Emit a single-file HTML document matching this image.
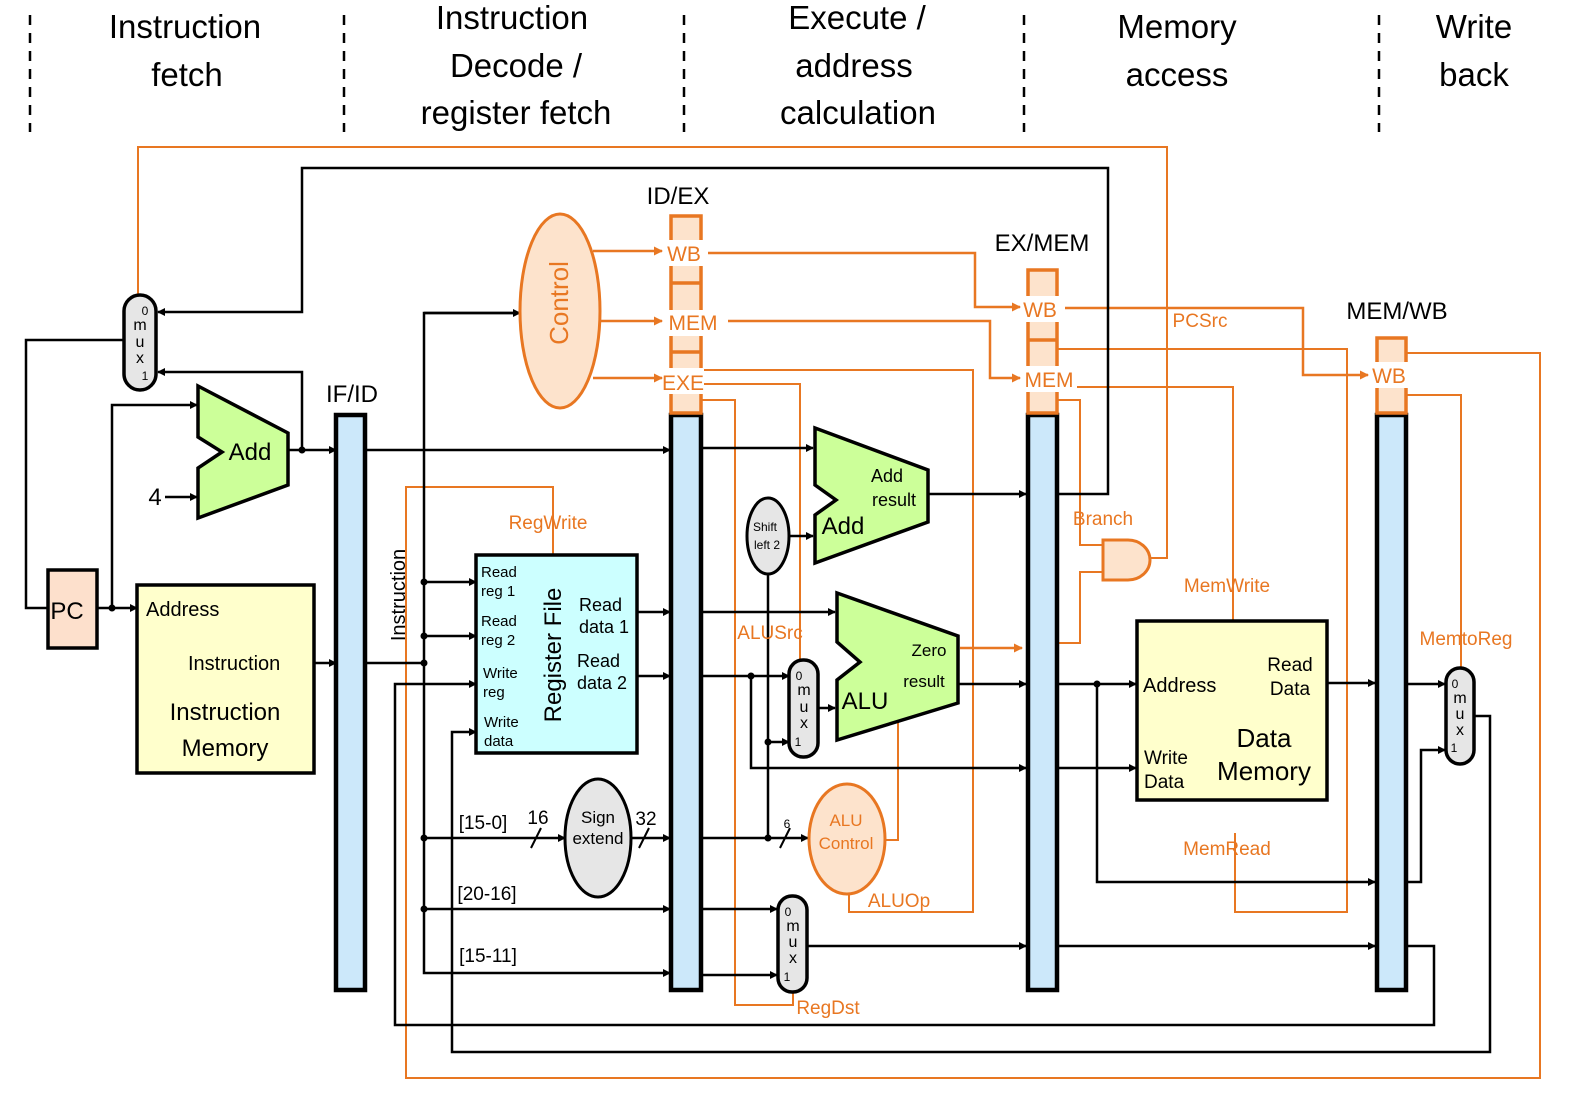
<!DOCTYPE html>
<html><head><meta charset="utf-8"><style>
html,body{margin:0;padding:0;background:#fff;}
svg{display:block;font-family:"Liberation Sans Narrow","Liberation Sans",sans-serif;}
</style></head><body>
<svg width="1591" height="1099" viewBox="0 0 1591 1099" xmlns="http://www.w3.org/2000/svg">
<defs>
<marker id="ab" markerWidth="8" markerHeight="8" refX="7" refY="4" orient="auto" markerUnits="userSpaceOnUse"><path d="M0,0 L8,4 L0,8 z" fill="#000"/></marker>
<marker id="ao" markerWidth="9" markerHeight="9" refX="8" refY="4.5" orient="auto" markerUnits="userSpaceOnUse"><path d="M0,0 L9,4.5 L0,9 z" fill="#e87722"/></marker>
</defs>
<!-- dashed separators -->
<g stroke="#000" stroke-width="2.5" stroke-dasharray="10,8">
<line x1="30" y1="15" x2="30" y2="132"/><line x1="344" y1="15" x2="344" y2="132"/><line x1="684" y1="15" x2="684" y2="132"/><line x1="1024" y1="15" x2="1024" y2="132"/><line x1="1379" y1="15" x2="1379" y2="132"/>
</g>
<g font-size="33" text-anchor="middle" fill="#000">
<text x="185" y="38">Instruction</text><text x="187" y="86">fetch</text>
<text x="512" y="29">Instruction</text><text x="516" y="77">Decode /</text><text x="516" y="124">register fetch</text>
<text x="857" y="29">Execute /</text><text x="854" y="77">address</text><text x="858" y="124">calculation</text>
<text x="1177" y="38">Memory</text><text x="1177" y="86">access</text>
<text x="1474" y="38">Write</text><text x="1474" y="86">back</text>
</g>

<!-- orange thin wires -->
<g stroke="#e87722" stroke-width="2" fill="none">
<polyline points="138,295 138,147 1167,147 1167,558 1150,558"/>
<polyline points="553,555 553,487 406,487 406,1078 1540,1078 1540,353 1406,353"/>
<polyline points="701,370 973,370 973,912 849,912 849,893"/>
<polyline points="701,384 800,384 800,660"/>
<polyline points="701,400 735,400 735,1005 793,1005 793,992"/>
<polyline points="1057,349 1347,349 1347,912 1235,912 1235,833"/>
<polyline points="1057,387 1233,387 1233,620"/>
<polyline points="1057,400 1080,400 1080,545 1103,545"/>
<polyline points="1057,643 1080,643 1080,572 1103,572"/>
<polyline points="1406,395 1461,395 1461,668"/>
<polyline points="885,840 898,840 898,715"/>
</g>
<g stroke="#e87722" stroke-width="2.5" fill="none">
<line x1="593" y1="251" x2="662" y2="251" marker-end="url(#ao)"/>
<line x1="600" y1="321" x2="662" y2="321" marker-end="url(#ao)"/>
<line x1="593" y1="378" x2="662" y2="378" marker-end="url(#ao)"/>
<polyline points="708,253 975,253 975,307 1020,307" marker-end="url(#ao)"/>
<polyline points="728,321 990,321 990,378 1020,378" marker-end="url(#ao)"/>
<polyline points="1065,308 1303,308 1303,375 1368,375" marker-end="url(#ao)"/>
<line x1="960" y1="648" x2="1022" y2="648" marker-end="url(#ao)"/>
</g>

<!-- black wires -->
<g stroke="#000" stroke-width="2.5" fill="none">
<polyline points="1057,494 1108,494 1108,168 302,168 302,312 158,312" marker-end="url(#ab)"/>
<polyline points="124,340 26,340 26,608 48,608"/>
<line x1="97" y1="608" x2="137" y2="608" marker-end="url(#ab)"/>
<polyline points="112,608 112,405 197,405" marker-end="url(#ab)"/>
<line x1="165" y1="497" x2="197" y2="497" marker-end="url(#ab)"/>
<line x1="288" y1="450" x2="336" y2="450" marker-end="url(#ab)"/>
<polyline points="302,450 302,372 158,372" marker-end="url(#ab)"/>
<line x1="314" y1="663" x2="336" y2="663" marker-end="url(#ab)"/>
<line x1="365" y1="450" x2="670" y2="450" marker-end="url(#ab)"/>
<line x1="365" y1="663" x2="424" y2="663"/>
<polyline points="520,313 424,313 424,973 670,973" marker-end="url(#ab)"/>
<line x1="424" y1="313" x2="520" y2="313" marker-end="url(#ab)"/>
<line x1="424" y1="582" x2="476" y2="582" marker-end="url(#ab)"/>
<line x1="424" y1="636" x2="476" y2="636" marker-end="url(#ab)"/>
<polyline points="1406,946 1434,946 1434,1025 395,1025 395,684 476,684" marker-end="url(#ab)"/>
<polyline points="1474,716 1490,716 1490,1052 452,1052 452,732 476,732" marker-end="url(#ab)"/>
<line x1="424" y1="838" x2="565" y2="838" marker-end="url(#ab)"/>
<line x1="631" y1="838" x2="670" y2="838" marker-end="url(#ab)"/>
<line x1="424" y1="909" x2="670" y2="909" marker-end="url(#ab)"/>
<line x1="637" y1="612" x2="670" y2="612" marker-end="url(#ab)"/>
<line x1="637" y1="676" x2="670" y2="676" marker-end="url(#ab)"/>
<line x1="701" y1="448" x2="813" y2="448" marker-end="url(#ab)"/>
<line x1="790" y1="536" x2="813" y2="536" marker-end="url(#ab)"/>
<line x1="928" y1="494" x2="1026" y2="494" marker-end="url(#ab)"/>
<line x1="701" y1="612" x2="835" y2="612" marker-end="url(#ab)"/>
<line x1="958" y1="684" x2="1026" y2="684" marker-end="url(#ab)"/>
<line x1="701" y1="676" x2="789" y2="676" marker-end="url(#ab)"/>
<polyline points="751,676 751,768 1026,768" marker-end="url(#ab)"/>
<line x1="768" y1="574" x2="768" y2="838"/>
<line x1="768" y1="742" x2="789" y2="742" marker-end="url(#ab)"/>
<line x1="818" y1="708" x2="835" y2="708" marker-end="url(#ab)"/>
<line x1="701" y1="838" x2="808" y2="838" marker-end="url(#ab)"/>
<line x1="701" y1="909" x2="777" y2="909" marker-end="url(#ab)"/>
<line x1="701" y1="975" x2="777" y2="975" marker-end="url(#ab)"/>
<line x1="807" y1="946" x2="1026" y2="946" marker-end="url(#ab)"/>
<line x1="1057" y1="684" x2="1136" y2="684" marker-end="url(#ab)"/>
<polyline points="1097,684 1097,882 1375,882" marker-end="url(#ab)"/>
<line x1="1057" y1="768" x2="1136" y2="768" marker-end="url(#ab)"/>
<line x1="1327" y1="683" x2="1375" y2="683" marker-end="url(#ab)"/>
<line x1="1057" y1="946" x2="1375" y2="946" marker-end="url(#ab)"/>
<line x1="1406" y1="684" x2="1445" y2="684" marker-end="url(#ab)"/>
<polyline points="1406,882 1421,882 1421,750 1445,750" marker-end="url(#ab)"/>
</g>
<g stroke="#000" stroke-width="2">
<line x1="531" y1="848" x2="541" y2="828"/><line x1="639" y1="848" x2="649" y2="828"/><line x1="780" y1="848" x2="790" y2="828"/>
</g>
<g fill="#000">
<circle cx="112" cy="608" r="3.5"/><circle cx="302" cy="450" r="3.5"/><circle cx="424" cy="582" r="3.5"/><circle cx="424" cy="636" r="3.5"/><circle cx="424" cy="663" r="3.5"/><circle cx="424" cy="838" r="3.5"/><circle cx="424" cy="909" r="3.5"/><circle cx="751" cy="676" r="3.5"/><circle cx="768" cy="742" r="3.5"/><circle cx="768" cy="838" r="3.5"/><circle cx="1097" cy="684" r="3.5"/>
</g>

<!-- muxes -->
<g stroke="#000" stroke-width="3.5" fill="#e6e6e6">
<rect x="124" y="295" width="32" height="95" rx="16"/>
<rect x="789" y="660" width="29" height="97" rx="14"/>
<rect x="778" y="896" width="29" height="96" rx="14"/>
<rect x="1446" y="668" width="28" height="96" rx="14"/>
</g>
<g font-size="16" text-anchor="middle">
<text x="145" y="315" font-size="12">0</text><text x="140" y="330">m</text><text x="140" y="347">u</text><text x="140" y="363">x</text><text x="145" y="380" font-size="12">1</text>
<text x="799" y="680" font-size="12">0</text><text x="804" y="695">m</text><text x="804" y="712">u</text><text x="804" y="728">x</text><text x="798" y="746" font-size="12">1</text>
<text x="788" y="916" font-size="12">0</text><text x="793" y="931">m</text><text x="793" y="947">u</text><text x="793" y="963">x</text><text x="787" y="981" font-size="12">1</text>
<text x="1455" y="688" font-size="12">0</text><text x="1460" y="703">m</text><text x="1460" y="719">u</text><text x="1460" y="735">x</text><text x="1454" y="752" font-size="12">1</text>
</g>

<!-- PC -->
<rect x="48" y="570" width="49" height="78" fill="#fde0cc" stroke="#000" stroke-width="3.5"/>
<text x="67" y="619" font-size="24" text-anchor="middle">PC</text>
<!-- adders -->
<polygon points="198,386 288,433 288,485 198,518 198,468 222,452 198,437" fill="#ccff99" stroke="#000" stroke-width="3.5"/>
<text x="250" y="460" font-size="24" text-anchor="middle">Add</text>
<text x="155" y="505" font-size="24" text-anchor="middle">4</text>
<polygon points="815,428 928,470 928,522 815,563 815,515 836,500 815,485" fill="#ccff99" stroke="#000" stroke-width="3.5"/>
<text x="887" y="482" font-size="18" text-anchor="middle">Add</text><text x="894" y="506" font-size="18" text-anchor="middle">result</text>
<text x="843" y="534" font-size="24" text-anchor="middle">Add</text>
<polygon points="837,593 958,636 958,703 837,740 837,680 860,662 837,642" fill="#ccff99" stroke="#000" stroke-width="3.5"/>
<text x="865" y="709" font-size="24" text-anchor="middle">ALU</text>
<text x="929" y="656" font-size="17" text-anchor="middle">Zero</text><text x="924" y="687" font-size="17" text-anchor="middle">result</text>
<!-- shift left -->
<ellipse cx="768" cy="536" rx="21" ry="38" fill="#e6e6e6" stroke="#000" stroke-width="3"/>
<text x="765" y="531" font-size="12" text-anchor="middle">Shift</text><text x="767" y="549" font-size="12" text-anchor="middle">left 2</text>
<!-- sign extend -->
<ellipse cx="598" cy="838" rx="33" ry="59" fill="#e6e6e6" stroke="#000" stroke-width="3"/>
<text x="598" y="823" font-size="17" text-anchor="middle">Sign</text><text x="598" y="844" font-size="17" text-anchor="middle">extend</text>
<g font-size="19" text-anchor="middle">
<text x="483" y="829">[15-0]</text><text x="538" y="824">16</text><text x="646" y="825">32</text>
<text x="487" y="900">[20-16]</text><text x="488" y="962">[15-11]</text>
</g>
<text x="787" y="828" font-size="12" text-anchor="middle">6</text>
<!-- ALU control -->
<ellipse cx="847" cy="839" rx="38" ry="55" fill="#fde3cc" stroke="#e87722" stroke-width="3"/>
<text x="846" y="826" font-size="17" text-anchor="middle" fill="#e87722">ALU</text><text x="846" y="849" font-size="17" text-anchor="middle" fill="#e87722">Control</text>
<!-- control -->
<ellipse cx="560" cy="311" rx="40" ry="97" fill="#fde3cc" stroke="#e87722" stroke-width="3"/>
<text transform="translate(568,303) rotate(-90)" font-size="26" text-anchor="middle" fill="#e87722" font-family="Liberation Sans,sans-serif">Control</text>
<!-- instruction memory -->
<rect x="137" y="585" width="177" height="188" fill="#ffffcc" stroke="#000" stroke-width="3.5"/>
<text x="146" y="616" font-size="20">Address</text>
<text x="188" y="670" font-size="20">Instruction</text>
<text x="225" y="720" font-size="24" text-anchor="middle">Instruction</text><text x="225" y="756" font-size="24" text-anchor="middle">Memory</text>
<text transform="translate(405,595) rotate(-90)" font-size="20" text-anchor="middle">Instruction</text>
<!-- register file -->
<rect x="476" y="555" width="161" height="198" fill="#ccffff" stroke="#000" stroke-width="3.5"/>
<g font-size="15">
<text x="481" y="577">Read</text><text x="481" y="596">reg 1</text>
<text x="481" y="626">Read</text><text x="481" y="645">reg 2</text>
<text x="483" y="678">Write</text><text x="483" y="697">reg</text>
<text x="484" y="727">Write</text><text x="484" y="746">data</text>
</g>
<g font-size="18">
<text x="579" y="611">Read</text><text x="579" y="633">data 1</text>
<text x="577" y="667">Read</text><text x="577" y="689">data 2</text>
</g>
<text transform="translate(561,655) rotate(-90)" font-size="24" text-anchor="middle" font-family="Liberation Sans,sans-serif">Register File</text>
<!-- data memory -->
<rect x="1137" y="621" width="190" height="179" fill="#ffffcc" stroke="#000" stroke-width="3.5"/>
<text x="1143" y="692" font-size="20">Address</text>
<text x="1290" y="671" font-size="19" text-anchor="middle">Read</text><text x="1290" y="695" font-size="19" text-anchor="middle">Data</text>
<text x="1144" y="764" font-size="19">Write</text><text x="1144" y="788" font-size="19">Data</text>
<text x="1264" y="747" font-size="26" text-anchor="middle">Data</text><text x="1264" y="780" font-size="26" text-anchor="middle">Memory</text>
<!-- AND gate -->
<path d="M1103,540 L1128,540 A22,20 0 0 1 1128,580 L1103,580 Z" fill="#fde3cc" stroke="#e87722" stroke-width="3"/>

<!-- pipeline registers -->
<g stroke="#000" stroke-width="4.5" fill="#cce8fa">
<rect x="336" y="415" width="29" height="575"/>
<rect x="671" y="415" width="30" height="575"/>
<rect x="1028" y="415" width="29" height="575"/>
<rect x="1377" y="415" width="29" height="575"/>
</g>
<g stroke="#e87722" stroke-width="3.5" fill="#fde3cc">
<rect x="671" y="216" width="30" height="197"/>
<line x1="671" y1="283" x2="701" y2="283"/><line x1="671" y1="352" x2="701" y2="352"/>
<rect x="1028" y="270" width="29" height="143"/>
<line x1="1028" y1="340" x2="1057" y2="340"/>
<rect x="1377" y="338" width="29" height="75"/>
</g>
<g fill="#fff">
<rect x="667" y="240" width="38" height="26"/><rect x="665" y="310" width="56" height="26"/><rect x="664" y="368" width="40" height="26"/>
<rect x="1022" y="296" width="38" height="26"/><rect x="1021" y="366" width="56" height="26"/><rect x="1371" y="362" width="38" height="26"/>
</g>
<g font-size="21" fill="#e87722" text-anchor="middle">
<text x="684" y="261">WB</text><text x="693" y="330">MEM</text><text x="683" y="390">EXE</text>
<text x="1040" y="317">WB</text><text x="1049" y="387">MEM</text><text x="1389" y="383">WB</text>
</g>
<g font-size="24" text-anchor="middle">
<text x="352" y="402">IF/ID</text><text x="678" y="204">ID/EX</text><text x="1042" y="251">EX/MEM</text><text x="1397" y="319">MEM/WB</text>
</g>
<g font-size="19" fill="#e87722" text-anchor="middle">
<text x="548" y="529">RegWrite</text><text x="770" y="639">ALUSrc</text><text x="899" y="907">ALUOp</text><text x="828" y="1014">RegDst</text>
<text x="1103" y="525">Branch</text><text x="1200" y="327">PCSrc</text><text x="1227" y="592">MemWrite</text><text x="1227" y="855">MemRead</text><text x="1466" y="645">MemtoReg</text>
</g>
</svg>
</body></html>
